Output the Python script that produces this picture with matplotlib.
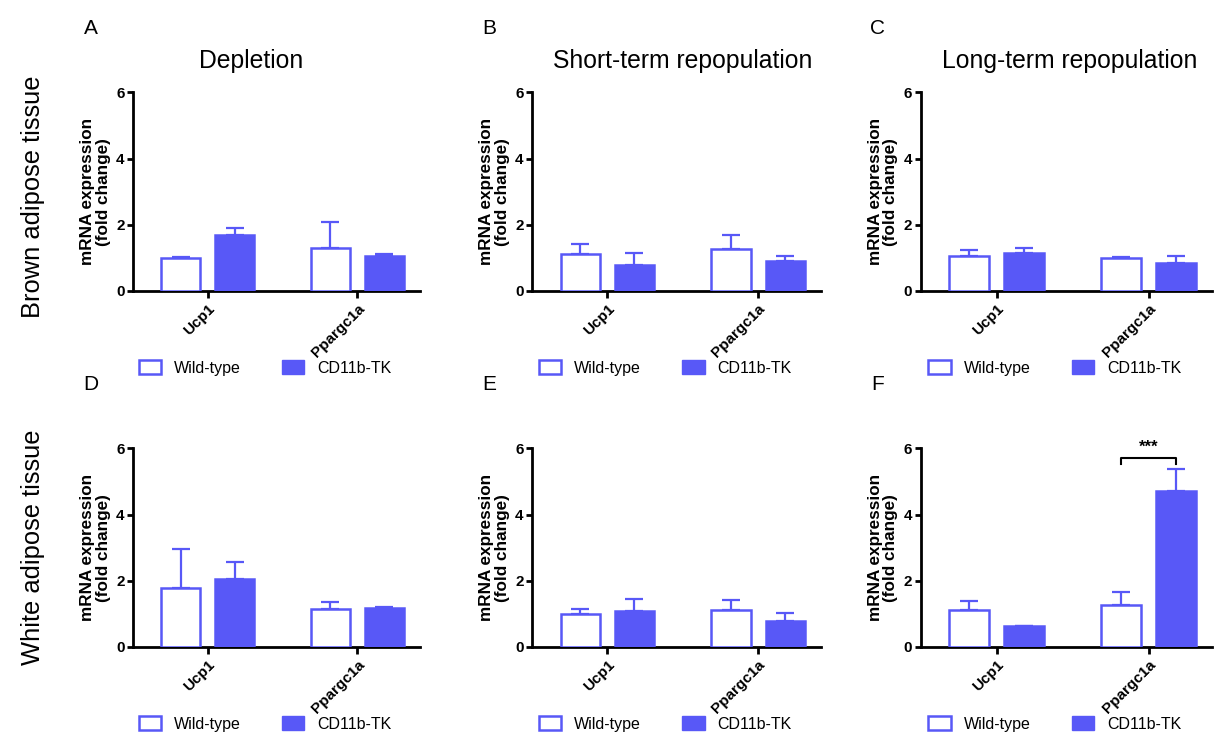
import matplotlib.pyplot as plt
from matplotlib.patches import Patch

plt.rcParams['font.family'] = ['Liberation Sans', 'DejaVu Sans']

genes = ['Ucp1', 'Ppargc1a']
panel_letters = ['A', 'B', 'C', 'D', 'E', 'F']
titles = ['Depletion', 'Short-term repopulation', 'Long-term repopulation']
row_labels = ['Brown adipose tissue', 'White adipose tissue']

# mean values and top of error bar (mean + SEM), one row per panel
wt_mean = [[1.0, 1.28], [1.12, 1.25], [1.05, 1.0],
           [1.78, 1.15], [1.0, 1.12], [1.1, 1.25]]
wt_top = [[1.02, 2.08], [1.4, 1.68], [1.22, 1.02],
          [2.95, 1.35], [1.15, 1.42], [1.38, 1.64]]
tk_mean = [[1.68, 1.06], [0.78, 0.9], [1.15, 0.85],
           [2.05, 1.18], [1.08, 0.78], [0.62, 4.72]]
tk_top = [[1.9, 1.12], [1.14, 1.04], [1.28, 1.06],
          [2.55, 1.2], [1.45, 1.03], [0.64, 5.38]]

blue = '#5858F7'

fig = plt.figure(figsize=(12.16, 7.34), dpi=100)

lefts = [0.1094, 0.4375, 0.757]
widths = [0.236, 0.238, 0.240]
bottoms = [0.604, 0.119]
height = 0.27
title_x = [0.41, 0.52, 0.51]

x = [0, 1]
w = 0.26
off = 0.18

for i in range(6):
    r, c = divmod(i, 3)
    ax = fig.add_axes([lefts[c], bottoms[r], widths[c], height])
    wx = [v - off for v in x]
    tx = [v + off for v in x]
    ax.bar(wx, wt_mean[i], w, facecolor='white', edgecolor=blue, linewidth=1.8, zorder=3)
    ax.bar(tx, tk_mean[i], w, facecolor=blue, edgecolor=blue, linewidth=1.8, zorder=3)
    wt_err = [t - m for t, m in zip(wt_top[i], wt_mean[i])]
    tk_err = [t - m for t, m in zip(tk_top[i], tk_mean[i])]
    ax.errorbar(wx, wt_mean[i], yerr=[[0, 0], wt_err], fmt='none', ecolor=blue,
                elinewidth=1.6, capsize=6.5, capthick=1.6, zorder=2)
    ax.errorbar(tx, tk_mean[i], yerr=[[0, 0], tk_err], fmt='none', ecolor=blue,
                elinewidth=1.6, capsize=6.5, capthick=1.6, zorder=2)

    ax.set_xlim(-0.5, 1.42)
    ax.set_ylim(0, 6)
    ax.set_yticks([0, 2, 4, 6])
    ax.set_xticks(x)
    ax.set_xticklabels(genes, rotation=45, ha='right', rotation_mode='anchor',
                       fontweight='bold', fontsize=11)
    for lab in ax.get_yticklabels():
        lab.set_fontweight('bold')
        lab.set_fontsize(11)
    ax.spines['top'].set_visible(False)
    ax.spines['right'].set_visible(False)
    ax.spines['left'].set_linewidth(2)
    ax.spines['bottom'].set_linewidth(2)
    ax.tick_params(axis='y', width=2, length=4, pad=2)
    ax.tick_params(axis='x', width=2, length=5, pad=3)
    ax.set_ylabel('mRNA expression\n(fold change)', fontweight='bold', fontsize=12.3,
                  linespacing=1.05, labelpad=4)

    handles = [Patch(facecolor='white', edgecolor=blue, linewidth=1.8, label='Wild-type'),
               Patch(facecolor=blue, edgecolor=blue, label='CD11b-TK')]
    ax.legend(handles=handles, ncol=2, frameon=False, fontsize=11.5,
              loc='center', bbox_to_anchor=(0.46, -0.39), columnspacing=2.6,
              handlelength=1.4, handleheight=0.9)

    ax.text(-0.146, 1.325, panel_letters[i], transform=ax.transAxes, fontsize=15,
            ha='center', va='center')
    if r == 0:
        ax.text(title_x[c], 1.16, titles[c], transform=ax.transAxes, fontsize=17.8,
                ha='center', va='center')

# significance bracket in panel F
axF = fig.axes[5]
y_br = 5.72
axF.plot([1 - off, 1 - off, 1 + off, 1 + off], [y_br - 0.2, y_br, y_br, y_br - 0.2],
         color='black', linewidth=1.5, clip_on=False)
axF.text(1, y_br + 0.1, '***', ha='center', va='bottom', fontsize=12, fontweight='bold')

fig.text(0.027, 0.732, row_labels[0], rotation=90, ha='center', va='center', fontsize=18.4)
fig.text(0.027, 0.255, row_labels[1], rotation=90, ha='center', va='center', fontsize=18.4)

fig.savefig('out.png', dpi=100)
